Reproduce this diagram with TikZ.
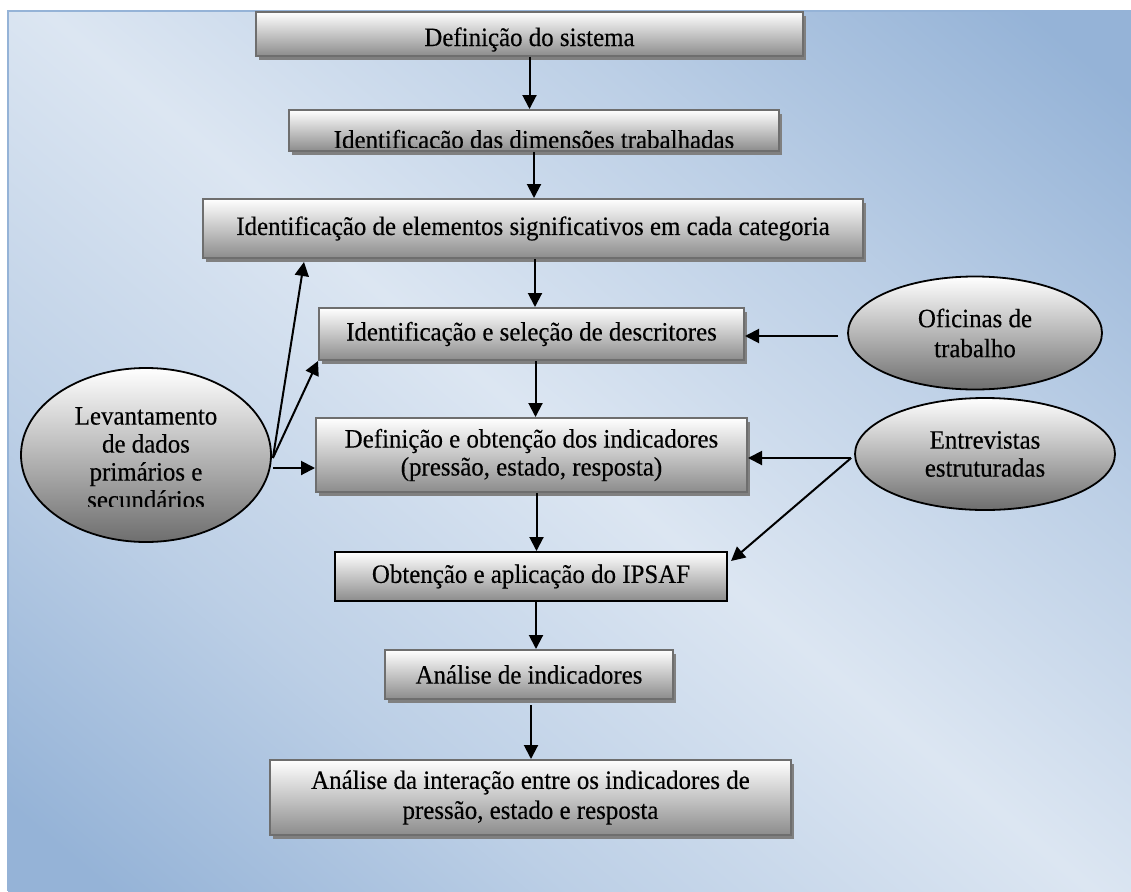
\documentclass[tikz,border=0pt]{standalone}
\usepackage{fontspec}
\setmainfont[FakeStretch=0.94,FakeBold=0.3]{Liberation Serif}
\usetikzlibrary{arrows.meta,shapes.geometric,shadows,calc}
\definecolor{bgblue}{HTML}{95B3D7}
\definecolor{bglight}{HTML}{DCE6F2}
\colorlet{bgmid}{bglight!55!bgblue}
\definecolor{boxborder}{HTML}{6E6E6E}
\definecolor{boxbottom}{HTML}{8C8C8C}
\definecolor{ovalbottom}{HTML}{6E6E6E}
\pgfdeclareverticalshading{bgshade}{100bp}{color(0bp)=(bgblue); color(18bp)=(bgblue); color(33bp)=(bgmid); color(50bp)=(bglight); color(66bp)=(bgmid); color(82bp)=(bgblue); color(100bp)=(bgblue)}
\begin{document}
\begin{tikzpicture}[x=1pt,y=-1pt,
  font=\fontsize{26.5}{28}\selectfont,
  box/.style={rectangle, draw=boxborder, line width=2pt, top color=white, bottom color=boxbottom,
    align=center, inner sep=0pt,
    drop shadow={shadow xshift=3pt, shadow yshift=-4pt, fill=black!50, opacity=1}},
  plainbox/.style={rectangle, draw=black, line width=2pt, top color=white, bottom color=boxbottom,
    align=center, inner sep=0pt},
  oval/.style={ellipse, draw=black, line width=1.8pt, top color=white, bottom color=ovalbottom,
    align=center, inner sep=0pt},
  arr/.style={line width=2pt, draw=black, -{Triangle[length=14pt,width=14pt]}}]
\useasboundingbox (0,0) rectangle (1131,891);
% background
\shade[shading=bgshade, shading angle=-40] (8,11) rectangle (1131,891);
\draw[bgblue, line width=2pt] (1131,11) -- (8,11) -- (8,891);

% boxes
\node[box, minimum width=547, minimum height=44, text height=24pt, text depth=0pt] (b1) at (529.5,34) {Definição do sistema};
\node[box, minimum width=490, minimum height=41] (b2) at (534,130.5) {};
\begin{scope}
  \clip ($(b2.north west)+(1,2)$) rectangle ($(b2.south east)+(-1,-5)$);
  \node[anchor=base, inner sep=0pt] (t2) at (534,148.5) {Identificação das dimensões trabalhadas};
\end{scope}
\node[box, minimum width=660, minimum height=59] (b3) at (533,228.5) {Identificação de elementos significativos em cada categoria};
\node[box, minimum width=425, minimum height=52] (b4) at (531.5,334) {Identificação e seleção de descritores};
\node[box, minimum width=431, minimum height=74] (b5) at (531.5,455) {Definição e obtenção dos indicadores\\(pressão, estado, resposta)};
\node[plainbox, minimum width=392, minimum height=49] (b6) at (531,576.5) {Obtenção e aplicação do IPSAF};
\node[box, minimum width=288, minimum height=49] (b7) at (529,674.5) {Análise de indicadores};
\node[box, minimum width=521, minimum height=75] (b8) at (530.5,797.5) {\raisebox{3pt}{\parbox{500pt}{\centering\fontsize{26.5}{30}\selectfont Análise da interação entre os indicadores de\\pressão, estado e resposta}}};

% ellipses
\node[oval, minimum width=250, minimum height=174] (lev) at (146,455) {};
\begin{scope}
  \clip (20,360) rectangle (272,506);
  \node[align=center, inner sep=0pt] (tlev) at (146,458) {Levantamento\\de dados\\primários e\\secundários};
\end{scope}
\node[oval, minimum width=254, minimum height=113] (of) at (975,333) {Oficinas de\\[2pt]trabalho};
\node[oval, minimum width=260, minimum height=112] (ent) at (985,454) {Entrevistas\\estruturadas};

% vertical arrows
\draw[arr] (b1.south) -- (b1.south |- b2.north);
\draw[arr] (b2.south) -- (b2.south |- b3.north);
\draw[arr] ([xshift=2pt]b3.south) -- ([xshift=2pt]b3.south |- b4.north);
\draw[arr] ([xshift=4pt]b4.south) -- ([xshift=4pt]b4.south |- b5.north);
\draw[arr] ([xshift=5pt]b5.south) -- ([xshift=5pt]b5.south |- b6.north);
\draw[arr] ([xshift=5pt]b6.south) -- ([xshift=5pt]b6.south |- b7.north);
\draw[arr] ([xshift=2pt,yshift=-5pt]b7.south) -- ([xshift=2pt]b7.south |- b8.north);

% side arrows
\draw[arr] ([xshift=1pt,yshift=-3pt]lev.east) -- ($(b3.south west)+(102,3)$);
\draw[arr] ([xshift=1pt,yshift=-3pt]lev.east) -- (b4.south west);
\draw[arr] ([xshift=1pt,yshift=-13pt]lev.east) -- ([yshift=-13pt]b5.west);
\draw[arr] ([xshift=-9pt,yshift=-3pt]of.west) -- ([yshift=-3pt]of.west -| b4.east);
\draw[arr] ([xshift=-3pt,yshift=-4pt]ent.west) -- ([yshift=-4pt]ent.west -| b5.east);
\draw[arr] ([xshift=-3pt,yshift=-4pt]ent.west) -- ($(b6.north east)+(3,10)$);
\end{tikzpicture}
\end{document}
